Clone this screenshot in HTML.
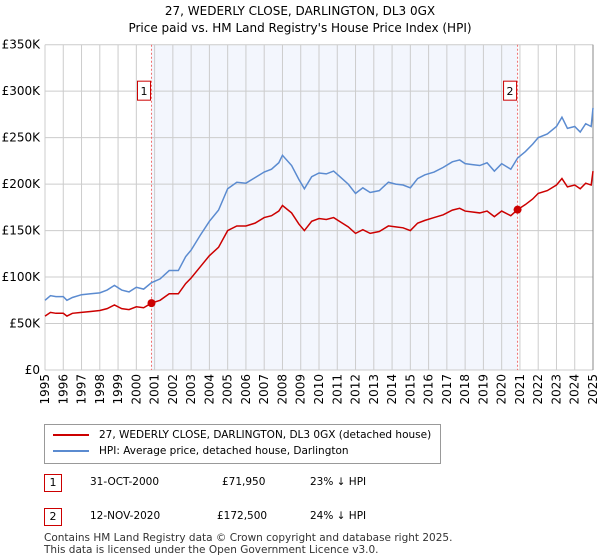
<!DOCTYPE html>
<html><head><meta charset="utf-8"><style>
body{margin:0;background:#fff;font-family:"DejaVu Sans","Liberation Sans",sans-serif;}
#wrap{position:relative;width:600px;height:560px;overflow:hidden;}
.t{position:absolute;font-size:12px;color:#000;}
</style></head><body><div id="wrap">
<svg id="chart" width="600" height="420" style="position:absolute;left:0;top:0"></svg>
<div class="t" style="left:0;width:600px;text-align:center;top:3px;font-size:12px;line-height:17px">27, WEDERLY CLOSE, DARLINGTON, DL3 0GX<br>Price paid vs. HM Land Registry's House Price Index (HPI)</div>
<div style="position:absolute;left:44px;top:424px;width:395px;height:38px;border:1px solid #999;background:#fff">
 <div style="position:absolute;left:8px;top:4px;font-size:10.5px;white-space:nowrap"><span style="display:inline-block;width:36px;height:2px;background:#cc0000;vertical-align:middle;margin-right:10px"></span>27, WEDERLY CLOSE, DARLINGTON, DL3 0GX (detached house)</div>
 <div style="position:absolute;left:8px;top:20px;font-size:10.5px;white-space:nowrap"><span style="display:inline-block;width:36px;height:2px;background:#5b8bd0;vertical-align:middle;margin-right:10px"></span>HPI: Average price, detached house, Darlington</div>
</div>
<div>
<div class="t" style="left:44px;top:474px;width:16px;height:16px;border:1px solid #cc0000;text-align:center;line-height:16px;font-size:11px">1</div>
<div class="t" style="left:90px;top:476px;font-size:10.5px">31-OCT-2000</div>
<div class="t" style="left:222px;top:476px;font-size:10.5px">£71,950</div>
<div class="t" style="left:310px;top:476px;font-size:10.5px">23% ↓ HPI</div></div>
<div>
<div class="t" style="left:44px;top:508px;width:16px;height:16px;border:1px solid #cc0000;text-align:center;line-height:16px;font-size:11px">2</div>
<div class="t" style="left:90px;top:510px;font-size:10.5px">12-NOV-2020</div>
<div class="t" style="left:217px;top:510px;font-size:10.5px">£172,500</div>
<div class="t" style="left:310px;top:510px;font-size:10.5px">24% ↓ HPI</div></div>
<div class="t" style="left:44px;top:532px;font-size:10.5px;line-height:12px;color:#333">Contains HM Land Registry data © Crown copyright and database right 2025.<br>This data is licensed under the Open Government Licence v3.0.</div>
</div>
<script>
const yTicks=[0,50,100,150,200,250,300,350];
const yLabels=["£0","£50K","£100K","£150K","£200K","£250K","£300K","£350K"];
const years=[1995,1996,1997,1998,1999,2000,2001,2002,2003,2004,2005,2006,2007,2008,2009,2010,2011,2012,2013,2014,2015,2016,2017,2018,2019,2020,2021,2022,2023,2024,2025];
const hpiT=[1995,1995.3,1995.6,1996,1996.2,1996.5,1997,1997.5,1998,1998.4,1998.8,1999.2,1999.6,2000,2000.4,2000.83,2001.3,2001.8,2002.3,2002.7,2003,2003.5,2004,2004.5,2005,2005.5,2006,2006.5,2007,2007.4,2007.8,2008,2008.5,2008.9,2009.2,2009.6,2010,2010.4,2010.8,2011.2,2011.6,2012,2012.4,2012.8,2013.3,2013.8,2014.2,2014.6,2015,2015.4,2015.8,2016.3,2016.8,2017.3,2017.7,2018,2018.4,2018.8,2019.2,2019.6,2020,2020.5,2020.87,2021.3,2021.7,2022,2022.5,2023,2023.3,2023.6,2024,2024.3,2024.6,2024.9,2025];
const hpiV=[75,80,79,79,75,78,81,82,83,86,91,86,84,89,87,94,98,107,107,122,129,145,160,172,195,202,201,207,213,216,223,231,220,205,195,208,212,211,214,207,200,190,196,191,193,202,200,199,196,206,210,213,218,224,226,222,221,220,223,214,222,216,228,235,243,250,254,262,272,260,262,256,265,262,282];
const ppV=[58,62,61,61,58,61,62,63,64,66,70,66,65,68,67,72,75,82,82,93,99,111,123,132,150,155,155,158,164,166,171,177,169,157,150,160,163,162,164,159,154,147,151,147,149,155,154,153,150,158,161,164,167,172,174,171,170,169,171,165,171,166,172.5,178,184,190,193,199,206,197,199,195,201,199,214];
const sales=[[2000.83,71.95,"1"],[2020.87,172.5,"2"]];
const L=45,R=593,T=44.7,B=370;
const FF='DejaVu Sans, Liberation Sans, sans-serif';
const x=t=>L+(t-1995)/30*(R-L), y=v=>B-v/350*(B-T);
const svg=document.getElementById('chart'),NS='http://www.w3.org/2000/svg';
function mk(tag,a,p){const e=document.createElementNS(NS,tag);for(const k in a)e.setAttribute(k,a[k]);(p||svg).appendChild(e);return e;}
let e=mk('rect',{x:x(sales[0][0]),y:T,width:x(sales[1][0])-x(sales[0][0]),height:B-T,fill:'#f3f6fd'});

yTicks.forEach((v,i)=>{let g=mk('line',{x1:L,x2:R,y1:y(v),y2:y(v),stroke:'#ccc'});
let t=mk('text',{x:L-5,y:y(v)+4,'text-anchor':'end','font-size':12,'font-family':FF});t.textContent=yLabels[i];});
years.forEach(yr=>{let g=mk('line',{x1:x(yr),x2:x(yr),y1:T,y2:B,stroke:'#ccc'});
let t=mk('text',{transform:`translate(${x(yr)+4},${B+4}) rotate(-90)`,'text-anchor':'end','font-size':12,'font-family':FF});t.textContent=yr;});
let rb=mk('line',{x1:R,x2:R,y1:T,y2:B,stroke:'#888'});
sales.forEach(s=>{let l=mk('line',{x1:x(s[0]),x2:x(s[0]),y1:T,y2:B,stroke:'#f07070','stroke-dasharray':'2,2'});
let r=mk('rect',{x:x(s[0])-14,y:y(300)-10,width:13,height:19,fill:'#fff',stroke:'#cc0000'});
let t=mk('text',{x:x(s[0])-7.5,y:y(300)+4,'text-anchor':'middle','font-size':11,'font-family':FF});t.textContent=s[2];});
let p1=mk('polyline',{points:hpiT.map((t,i)=>x(t)+','+y(hpiV[i])).join(' '),fill:'none',stroke:'#5b8bd0','stroke-width':1.5});

let p2=mk('polyline',{points:hpiT.map((t,i)=>x(t)+','+y(ppV[i])).join(' '),fill:'none',stroke:'#cc0000','stroke-width':1.5});

sales.forEach(s=>{let c=mk('circle',{cx:x(s[0]),cy:y(s[1]),r:4,fill:'#cc0000'});});
</script></body></html>
